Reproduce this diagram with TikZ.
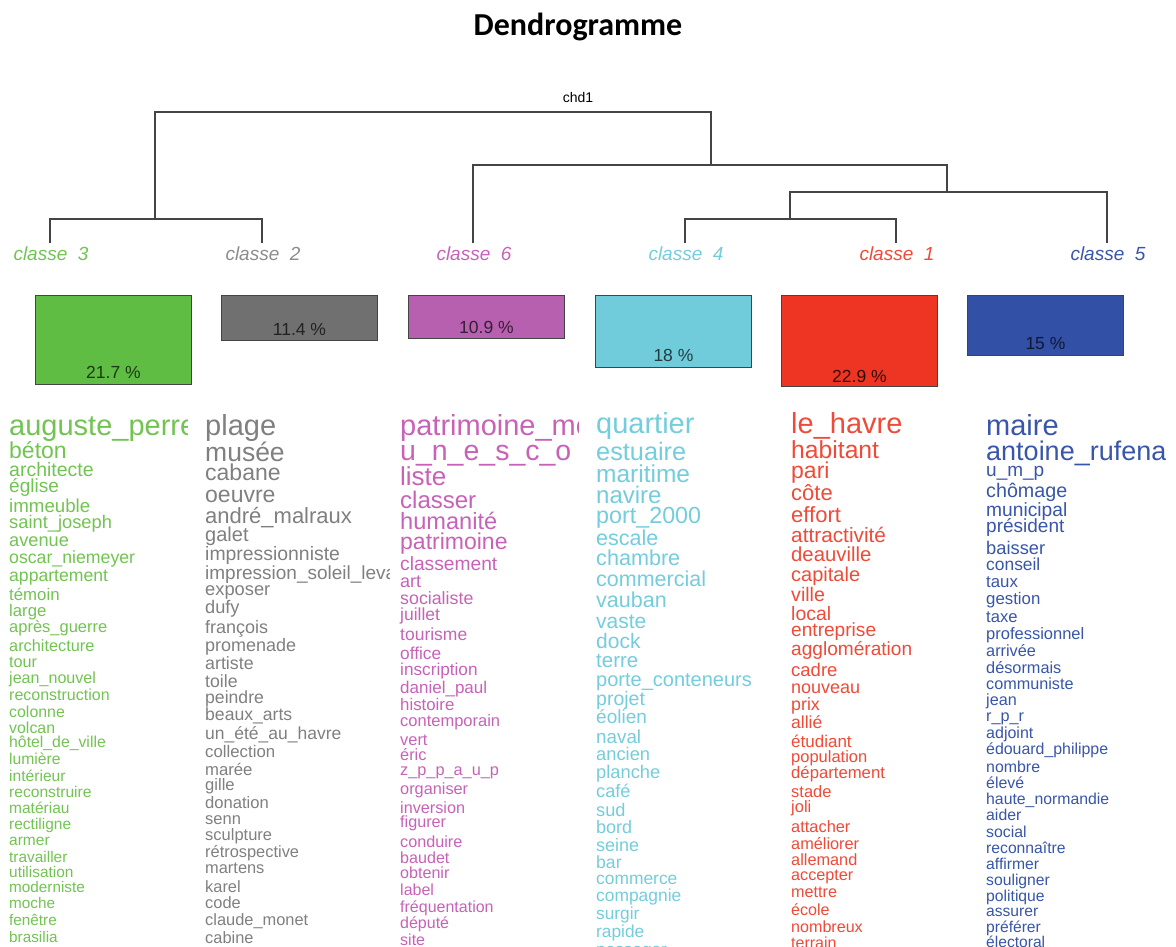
\documentclass[tikz,border=0pt]{standalone}
\usepackage{fontspec}
\setmainfont{Liberation Sans}
\newfontfamily\titlefont{Carlito}
\definecolor{wgreen}{HTML}{72C452}\definecolor{bgreen}{HTML}{5FBD43}
\definecolor{wgray}{HTML}{808080}\definecolor{bgray}{HTML}{707070}
\definecolor{wmag}{HTML}{C862B8}\definecolor{bmag}{HTML}{B760AF}
\definecolor{wcyan}{HTML}{74CDDC}\definecolor{bcyan}{HTML}{70CCDA}
\definecolor{wred}{HTML}{F04A38}\definecolor{bred}{HTML}{EE3524}
\definecolor{wblue}{HTML}{3856AA}\definecolor{bblue}{HTML}{3150A6}
\definecolor{dline}{HTML}{444444}
\tikzset{
  dendro/.style={draw=dline, line width=1.3pt},
  clabel/.style={anchor=base, inner sep=0pt, font=\fontsize{19}{19}\selectfont\itshape},
  classbox/.style={draw=dline, line width=0.9pt, anchor=north west, minimum width=156pt, inner sep=0pt},
  pct/.style={anchor=center, inner sep=0pt, font=\fontsize{17.5}{17.5}\selectfont},
  word/.style={anchor=base west, inner sep=0pt},
}
\newcommand{\wordcol}[4]{% #1 name, #2 x, #3 colour, #4 list
  \foreach \yy/\sz/\ww [count=\i] in {#4} {
    \node[word, text=#3] (#1-\i) at ({#2},{\yy+0.26*\sz+3}) {\fontsize{\sz}{\sz}\selectfont \ww};
  }
}
\begin{document}
\begin{tikzpicture}[x=1pt,y=-1pt]
\fill[white] (0,0) rectangle (1176,946);
\useasboundingbox (0,0) rectangle (1176,946);

\node[anchor=base, inner sep=0pt, font=\titlefont\bfseries\fontsize{32}{32}\selectfont] (title) at (578,35) {Dendrogramme};
\node[anchor=base, inner sep=0pt, font=\fontsize{14}{14}\selectfont] (chd) at (578,102) {chd1};

% dendrogram
\coordinate (k3) at (50,243);
\coordinate (k2) at (262,243);
\coordinate (k6) at (473,243);
\coordinate (k4) at (685,243);
\coordinate (k1) at (896,243);
\coordinate (k5) at (1107,243);
\coordinate (j32) at (155,219);
\coordinate (j41) at (790,219);
\coordinate (j415) at (947,192);
\coordinate (j6415) at (711,165);
\coordinate (root) at (433,112);
\draw[dendro] (k3) |- (j32) -| (k2);
\draw[dendro] (j32) |- (root) -| (j6415);
\draw[dendro] (k6) |- (j6415) -| (j415);
\draw[dendro] (j41) |- (j415) -| (k5);
\draw[dendro] (k4) |- (j41) -| (k1);

% class labels
\node[clabel, text=wgreen] (l3) at (51,260) {classe\ \ 3};
\node[clabel, text=wgray!90] (l2) at (263,260) {classe\ \ 2};
\node[clabel, text=wmag] (l6) at (474,260) {classe\ \ 6};
\node[clabel, text=wcyan] (l4) at (686,260) {classe\ \ 4};
\node[clabel, text=wred] (l1) at (897,260) {classe\ \ 1};
\node[clabel, text=wblue] (l5) at (1108,260) {classe\ \ 5};

% boxes
\node[classbox, fill=bgreen, minimum height=89pt] (b3) at (35,295) {};
\node[classbox, fill=bgray, minimum height=45pt] (b2) at (221,295) {};
\node[classbox, fill=bmag, minimum height=43pt] (b6) at (408,295) {};
\node[classbox, fill=bcyan, minimum height=72pt] (b4) at (595,295) {};
\node[classbox, fill=bred, minimum height=91pt] (b1) at (781,295) {};
\node[classbox, fill=bblue, minimum height=60pt] (b5) at (967,295) {};
\node[pct, text=bgreen!30!black] (p3) at ([yshift=12pt]b3.south) {21.7 \%};
\node[pct, text=bgray!30!black] (p2) at ([yshift=11pt]b2.south) {11.4 \%};
\node[pct, text=bmag!30!black] (p6) at ([yshift=11pt]b6.south) {10.9 \%};
\node[pct, text=bcyan!30!black] (p4) at ([yshift=12pt]b4.south) {18 \%};
\node[pct, text=bred!20!black] (p1) at ([yshift=10pt]b1.south) {22.9 \%};
\node[pct, text=bblue!30!black] (p5) at ([yshift=12pt]b5.south) {15 \%};

% word columns
\begin{scope}
\clip (0,395) rectangle (187,946);
\wordcol{w3}{9}{wgreen}{425/29/auguste\_perret,450/23/béton,468/19.5/architecte,485/19/église,505/18.7/immeuble,521/18.3/saint\_joseph,539/18.2/avenue,556/17.7/oscar\_niemeyer,574/17.6/appartement,593/16.8/témoin,609/16.7/large,625/16.5/après\_guerre,644/16.3/architecture,660/16.2/tour,676/16.1/jean\_nouvel,693/16/reconstruction,710/15.9/colonne,726/15.9/volcan,740/15.8/hôtel\_de\_ville,757/15.7/lumière,774/15.6/intérieur,790/15.6/reconstruire,806/15.5/matériau,822/15.5/rectiligne,838/15.5/armer,855/15.4/travailler,870/15.4/utilisation,886/15.3/moderniste,902/15.3/moche,919/15.3/fenêtre,936/15.3/brasilia}
\end{scope}
\begin{scope}
\clip (196,395) rectangle (389,946);
\wordcol{w2}{205}{wgray}{425/29/plage,452/26.5/musée,472/23/cabane,494/23/oeuvre,515/22/andré\_malraux,533/20/galet,552/19.4/impressionniste,572/19/impression\_soleil\_levant,588/18.3/exposer,606/18.2/dufy,626/18/françois,644/18/promenade,662/17.8/artiste,680/17.7/toile,696/17.6/peindre,713/17.6/beaux\_arts,732/17.5/un\_été\_au\_havre,750/16.8/collection,768/16.7/marée,783/16.6/gille,801/16.6/donation,817/16.5/senn,833/16.5/sculpture,850/16.4/rétrospective,866/16.4/martens,885/16.4/karel,901/16.4/code,918/16.4/claude\_monet,936/16.4/cabine}
\end{scope}
\begin{scope}
\clip (392,395) rectangle (578,946);
\wordcol{w6}{400}{wmag}{425/29/patrimoine\_mondial,450/28.5/u\_n\_e\_s\_c\_o,476/26/liste,499/24/classer,520/23.6/humanité,541/23/patrimoine,562/19.2/classement,580/18/art,597/17.8/socialiste,613/17.5/juillet,633/17.5/tourisme,652/17.3/office,668/17.2/inscription,686/17/daniel\_paul,703/16.8/histoire,719/16.5/contemporain,738/16.4/vert,753/16.3/éric,768/16.3/z\_p\_p\_a\_u\_p,787/16.3/organiser,806/16.2/inversion,820/16.2/figurer,840/16.2/conduire,856/16.1/baudet,871/16.1/obtenir,888/16/label,905/16/fréquentation,921/16/député,938/16/site}
\end{scope}
\begin{scope}
\clip (588,395) rectangle (775,946);
\wordcol{w4}{596}{wcyan}{423/29/quartier,451/25.3/estuaire,473/24.5/maritime,494/24/navire,514/23.3/port\_2000,537/21.5/escale,557/21.6/chambre,578/21.5/commercial,599/21.5/vauban,620/21/vaste,640/21/dock,659/20.5/terre,678/20/porte\_conteneurs,697/19.5/projet,716/19/éolien,736/18.8/naval,753/18.3/ancien,771/18.3/planche,790/18.2/café,809/18.2/sud,826/18/bord,844/18/seine,861/17.6/bar,877/17.4/commerce,894/17.4/compagnie,912/17.3/surgir,930/17.3/rapide,948/17.2/passager}
\end{scope}
\begin{scope}
\clip (783,395) rectangle (970,946);
\wordcol{w1}{791}{wred}{423/29/le\_havre,449/24.7/habitant,470/23/pari,492/22/côte,514/22/effort,534/20.8/attractivité,553/20.3/deauville,573/20/capitale,593/19.6/ville,612/19.4/local,629/19.1/entreprise,648/19.1/agglomération,669/18.5/cadre,686/18/nouveau,703/17.8/prix,721/17.5/allié,740/17/étudiant,755/16.5/population,771/16.7/département,790/16.5/stade,805/16.5/joli,825/16.4/attacher,842/16.3/améliorer,858/16.3/allemand,873/16.2/accepter,890/16.2/mettre,908/16.1/école,925/16.1/nombreux,941/16/terrain}
\end{scope}
\begin{scope}
\clip (978,395) rectangle (1165,946);
\wordcol{w5}{986}{wblue}{425/29/maire,450/27/antoine\_rufenacht,469/19/u\_m\_p,489/19.7/chômage,508/19.2/municipal,525/19/président,547/18.3/baisser,563/17.4/conseil,580/16.8/taux,597/16.8/gestion,615/16.6/taxe,632/16.5/professionnel,649/16.3/arrivée,666/16.3/désormais,682/16.2/communiste,698/16.2/jean,714/16.2/r\_p\_r,731/16/adjoint,747/15.9/édouard\_philippe,765/15.9/nombre,781/15.9/élevé,797/15.8/haute\_normandie,813/15.8/aider,830/15.8/social,846/15.7/reconnaître,862/15.7/affirmer,878/15.7/souligner,894/15.7/politique,909/15.6/assurer,925/15.6/préférer,940/15.6/électoral}
\end{scope}
\end{tikzpicture}
\end{document}
